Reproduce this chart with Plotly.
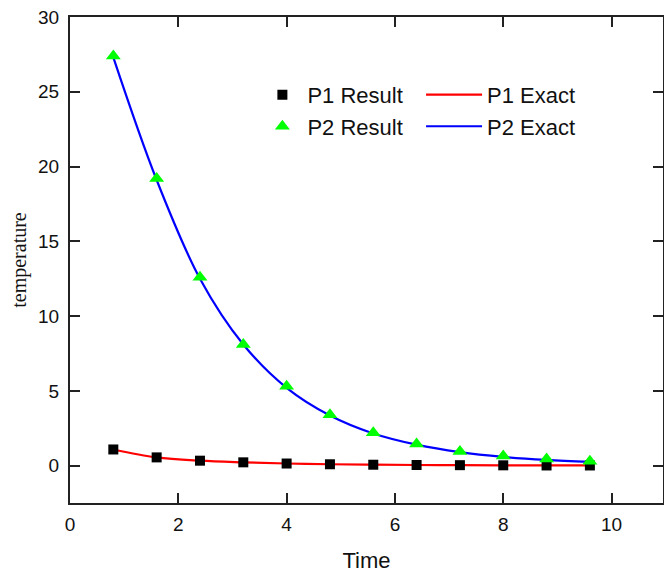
import plotly.graph_objects as go

time = [0.8, 1.6, 2.4, 3.2, 4.0, 4.8, 5.6, 6.4, 7.2, 8.0, 8.8, 9.6]
p1_result = [1.08, 0.55, 0.33, 0.22, 0.14, 0.09, 0.06, 0.04, 0.03, 0.02, 0.01, 0.01]
p1_exact = [1.08, 0.55, 0.33, 0.22, 0.14, 0.09, 0.06, 0.04, 0.03, 0.02, 0.01, 0.01]
p2_result = [27.4, 19.2, 12.6, 8.1, 5.3, 3.4, 2.2, 1.45, 0.95, 0.65, 0.45, 0.3]
p2_exact = [27.3, 19.1, 12.5, 8.1, 5.2, 3.35, 2.15, 1.4, 0.9, 0.58, 0.38, 0.25]

fig = go.Figure()
fig.add_trace(go.Scatter(x=time, y=p1_exact, mode="lines", name="P1 Exact",
                         line=dict(color="#ff0000", width=2.2, shape="spline"), legend="legend2"))
fig.add_trace(go.Scatter(x=time, y=p2_exact, mode="lines", name="P2 Exact",
                         line=dict(color="#0000ff", width=2.2, shape="spline"), legend="legend2"))
fig.add_trace(go.Scatter(x=time, y=p1_result, mode="markers", name="P1 Result",
                         marker=dict(symbol="square", color="black", size=10), legend="legend"))
fig.add_trace(go.Scatter(x=time, y=p2_result, mode="markers", name="P2 Result",
                         marker=dict(symbol="triangle-up", color="#00ff00", size=13), legend="legend"))

axis_common = dict(showline=True, linecolor="#222", linewidth=2, mirror="ticks",
                   ticks="inside", ticklen=10, tickwidth=1.5, tickcolor="#222",
                   showgrid=False, zeroline=False, automargin=False,
                   tickfont=dict(family="Liberation Sans, Arial", size=19, color="#111"))

fig.update_layout(
    width=664, height=573,
    margin=dict(l=70, r=1, t=17, b=70),
    plot_bgcolor="white", paper_bgcolor="white",
    xaxis=dict(range=[0, 10.95], dtick=2, tick0=0, ticklabelstandoff=3,
               title=dict(text="Time", font=dict(family="Liberation Sans, Arial", size=22, color="#111"), standoff=19),
               **axis_common),
    yaxis=dict(range=[-2.5, 30], dtick=5, tick0=0, ticklabelstandoff=5,
               title=dict(text="temperature", font=dict(family="Liberation Serif, Times New Roman", size=20, color="#111"), standoff=6),
               **axis_common),
    legend=dict(x=0.316, y=0.883, xanchor="left", yanchor="top", bgcolor="rgba(0,0,0,0)",
                font=dict(family="Liberation Sans, Arial", size=22, color="#111"),
                tracegroupgap=0, itemwidth=40),
    legend2=dict(x=0.592, y=0.883, xanchor="left", yanchor="top", bgcolor="rgba(0,0,0,0)",
                 font=dict(family="Liberation Sans, Arial", size=22, color="#111"),
                 tracegroupgap=0, itemwidth=56),
    showlegend=True,
)

# remove the default 8px page margin so the figure fills the window exactly
fig.write_html("out.html", config={"displayModeBar": False},
               post_script="document.body.style.margin='0';document.body.style.overflow='hidden';")
